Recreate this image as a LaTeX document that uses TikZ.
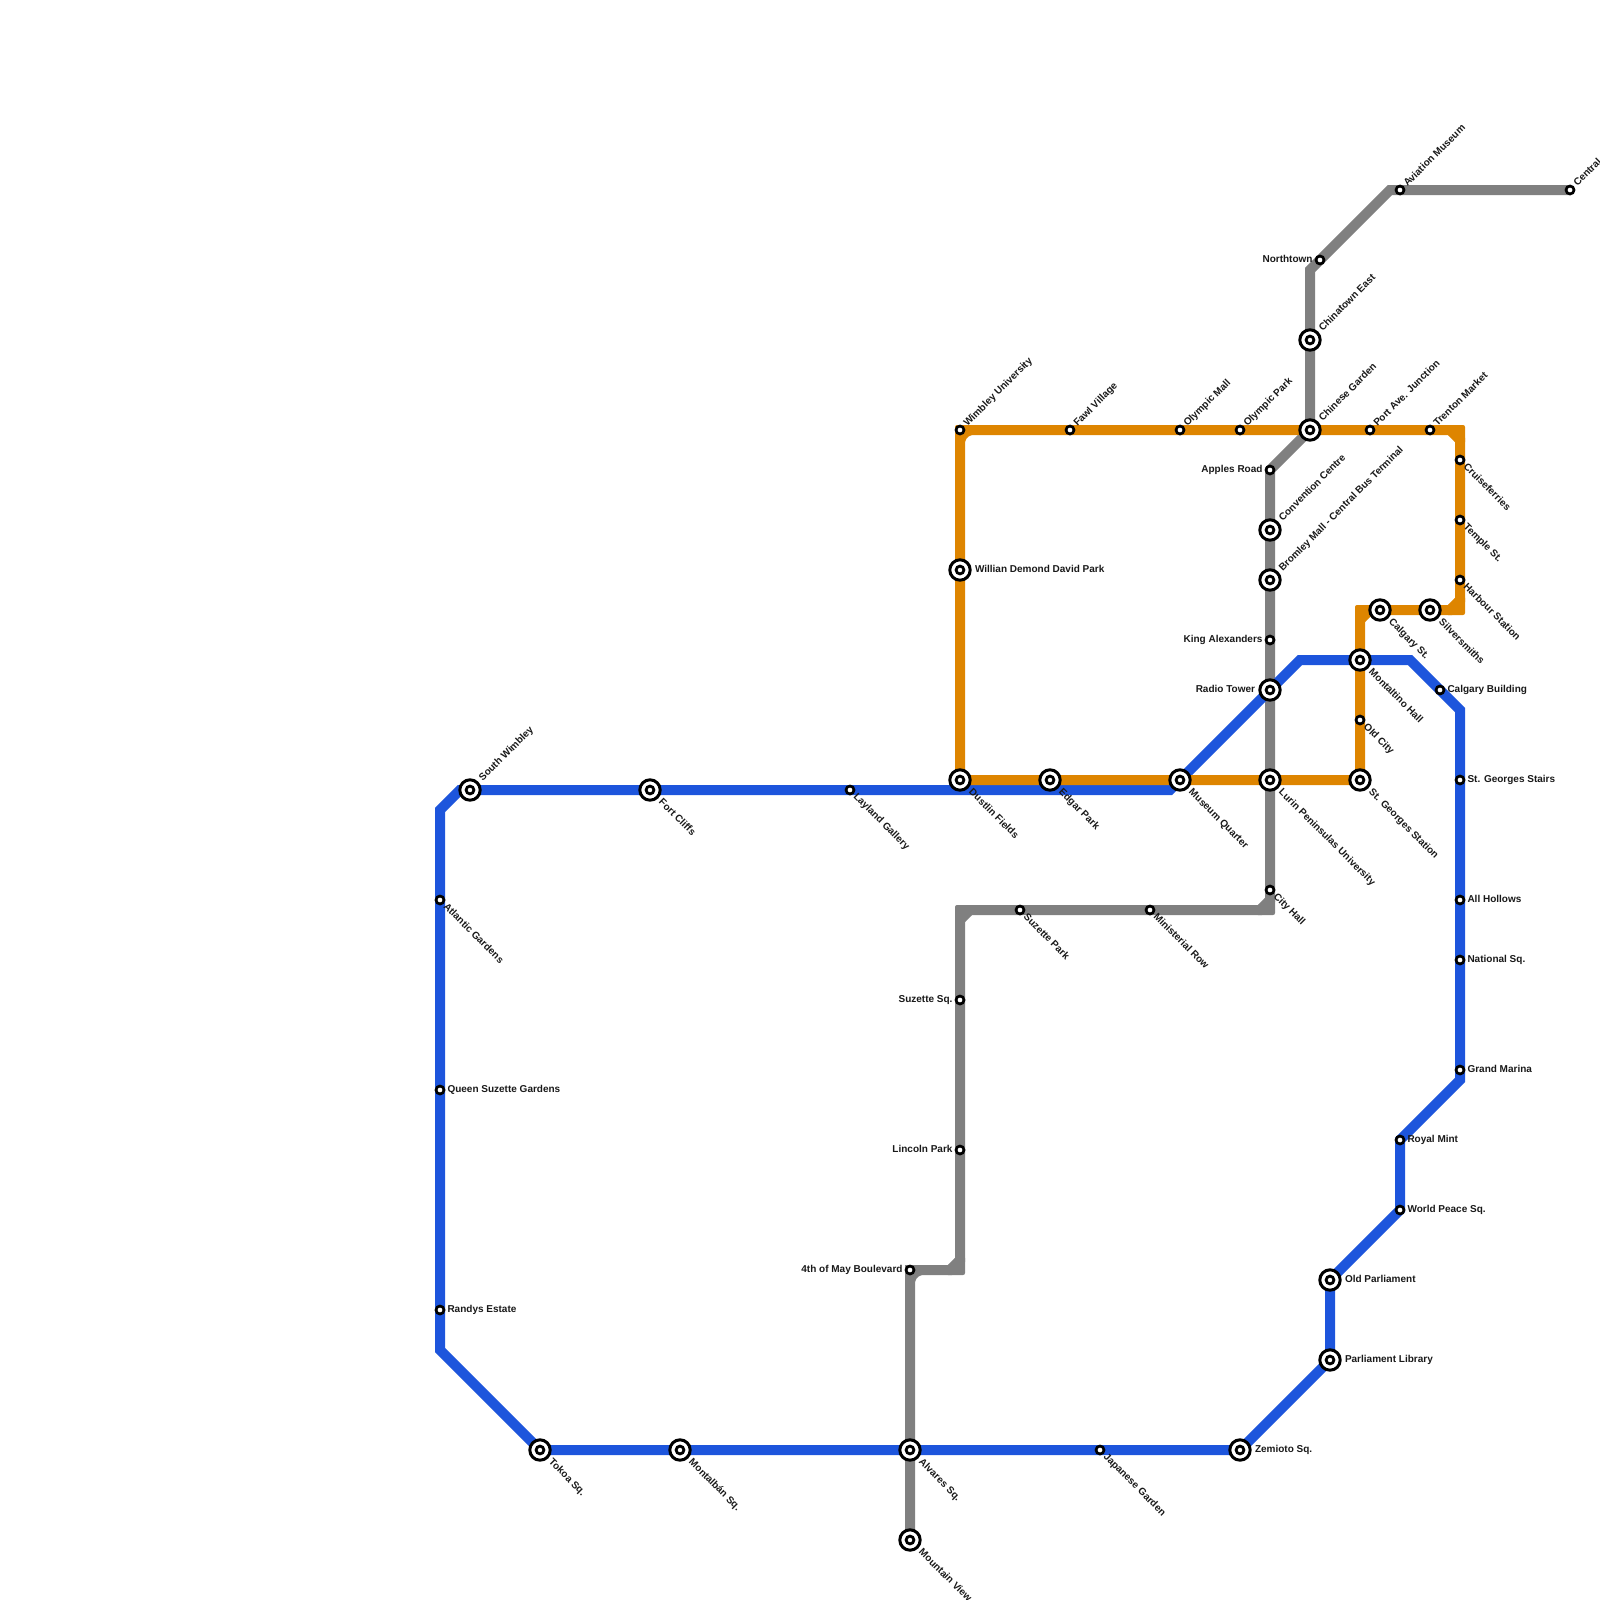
\documentclass[tikz,border=0pt]{standalone}
\usepackage{fontspec}
\setmainfont{Liberation Sans}
\usetikzlibrary{backgrounds}
\definecolor{lblue}{HTML}{1D55DC}
\definecolor{lorange}{HTML}{DE8500}
\definecolor{lgray}{HTML}{808080}
\tikzset{
  x=1pt,y=-1pt,
  line/.style={line width=10pt,line join=miter,line cap=butt},
  small/.style={circle,draw=black,fill=white,line width=2.7pt,minimum size=8pt,inner sep=0pt,outer sep=0pt},
  big/.style={circle,draw=black,fill=white,line width=3pt,minimum size=20.4pt,inner sep=0pt,outer sep=0pt},
  bigin/.style={circle,draw=black,fill=white,line width=2.8pt,minimum size=7.8pt,inner sep=0pt,outer sep=0pt},
  lab/.style={inner sep=0pt,outer sep=0pt,font=\fontsize{10}{12}\bfseries\selectfont,text=black!90},
}
\newcommand{\sm}[5]{\node[small] (#1) at (#2,#3) {};\lbl{#1}{#2}{#3}{#4}{#5}{7.5}}
\newcommand{\bg}[5]{\node[big] (#1) at (#2,#3) {};\node[bigin] (#1-i) at (#2,#3) {};\lbl{#1}{#2}{#3}{#4}{#5}{15}}
\newcommand{\lbl}[6]{%
  \ifx#4r\node[lab,anchor=base west] (#1-l) at ([shift={(#6,2.6)}]#2,#3) {#5};\fi
  \ifx#4l\node[lab,anchor=base east] (#1-l) at ([shift={(-#6,2.6)}]#2,#3) {#5};\fi
  \ifx#4u\node[lab,anchor=base west,rotate=45] (#1-l) at ([shift={(0.7071*#6+2.2,-0.7071*#6+2.2)}]#2,#3) {#5};\fi
  \ifx#4d\node[lab,anchor=base west,rotate=-45] (#1-l) at ([shift={(0.7071*#6-2.2,0.7071*#6+2.2)}]#2,#3) {#5};\fi
}
\newcommand{\crn}[5]{\fill[#1,rounded corners=2pt,shift={(#2,#3)},xscale=#4,yscale=#5]
  (-14,-5) -- (5,-5) -- (5,14) -- (-5,14) -- (-5,10) -- (-10,5) -- (-14,5) -- cycle;}
\begin{document}
\begin{tikzpicture}
\useasboundingbox (0,0) rectangle (1600,1600);
\clip (0,0) rectangle (1600,1600);
% blue
\bg{southwimbley}{470}{790}{u}{South Wimbley}
\bg{fortcliffs}{650}{790}{d}{Fort Cliffs}
\sm{layland}{850}{790}{d}{Layland Gallery}
\bg{dustlin}{960}{780}{d}{Dustlin Fields}
\bg{edgar}{1050}{780}{d}{Edgar Park}
\bg{museum}{1180}{780}{d}{Museum Quarter}
\bg{radio}{1270}{690}{l}{Radio Tower}
\bg{montaltino}{1360}{660}{d}{Montaltino Hall}
\sm{calgarybldg}{1440}{690}{r}{Calgary Building}
\sm{stairs}{1460}{780}{r}{St. Georges Stairs}
\sm{hollows}{1460}{900}{r}{All Hollows}
\sm{national}{1460}{960}{r}{National Sq.}
\sm{marina}{1460}{1070}{r}{Grand Marina}
\sm{mint}{1400}{1140}{r}{Royal Mint}
\sm{peace}{1400}{1210}{r}{World Peace Sq.}
\bg{oldparl}{1330}{1280}{r}{Old Parliament}
\bg{parllib}{1330}{1360}{r}{Parliament Library}
\bg{zemioto}{1240}{1450}{r}{Zemioto Sq.}
\sm{japanese}{1100}{1450}{d}{Japanese Garden}
\bg{alvares}{910}{1450}{d}{Alvares Sq.}
\bg{montalban}{680}{1450}{d}{Montalbán Sq.}
\bg{tokoa}{540}{1450}{d}{Tokoa Sq.}
\sm{randys}{440}{1310}{r}{Randys Estate}
\sm{queen}{440}{1090}{r}{Queen Suzette Gardens}
\sm{atlantic}{440}{900}{d}{Atlantic Gardens}
% orange
\sm{wimbleyu}{960}{430}{u}{Wimbley University}
\sm{fawl}{1070}{430}{u}{Fawl Village}
\sm{olmall}{1180}{430}{u}{Olympic Mall}
\sm{olpark}{1240}{430}{u}{Olympic Park}
\bg{chinese}{1310}{430}{u}{Chinese Garden}
\sm{portave}{1370}{430}{u}{Port Ave. Junction}
\sm{trenton}{1430}{430}{u}{Trenton Market}
\sm{cruise}{1460}{460}{d}{Cruiseferries}
\sm{temple}{1460}{520}{d}{Temple St.}
\sm{harbour}{1460}{580}{d}{Harbour Station}
\bg{silver}{1430}{610}{d}{Silversmiths}
\bg{calgaryst}{1380}{610}{d}{Calgary St.}
\sm{oldcity}{1360}{720}{d}{Old City}
\bg{stgeorges}{1360}{780}{d}{St. Georges Station}
\bg{lurin}{1270}{780}{d}{Lurin Peninsulas University}
\bg{willian}{960}{570}{r}{Willian Demond David Park}
% gray
\bg{mountain}{910}{1540}{d}{Mountain View}
\sm{fourth}{910}{1270}{l}{4th of May Boulevard}
\sm{lincoln}{960}{1150}{l}{Lincoln Park}
\sm{suzettesq}{960}{1000}{l}{Suzette Sq.}
\sm{suzettepk}{1020}{910}{d}{Suzette Park}
\sm{ministerial}{1150}{910}{d}{Ministerial Row}
\sm{cityhall}{1270}{890}{d}{City Hall}
\sm{king}{1270}{640}{l}{King Alexanders}
\bg{bromley}{1270}{580}{u}{Bromley Mall - Central Bus Terminal}
\bg{convention}{1270}{530}{u}{Convention Centre}
\sm{apples}{1270}{470}{l}{Apples Road}
\bg{chinatown}{1310}{340}{u}{Chinatown East}
\sm{northtown}{1320}{260}{l}{Northtown}
\sm{aviation}{1400}{190}{u}{Aviation Museum}
\sm{central}{1570}{190}{u}{Central}
\begin{pgfonlayer}{background}
\draw[line,lgray] (mountain.center) -- (alvares.center) -- (fourth.center) -- (950,1270) -- (960,1260) -- (lincoln.center) -- (suzettesq.center) -- (960,920) -- (970,910) -- (suzettepk.center) -- (ministerial.center) -- (1260,910) -- (1270,900) -- (cityhall.center) -- (lurin.center) -- (radio.center) -- (king.center) -- (bromley.center) -- (convention.center) -- (apples.center) -- (chinese.center) -- (chinatown.center) -- (1310,270) -- (1390,190) -- (aviation.center) -- (central.center);
\crn{lgray}{960}{1270}{1}{-1}
\crn{lgray}{910}{1270}{-1}{1}
\crn{lgray}{960}{910}{-1}{1}
\crn{lgray}{1270}{910}{1}{-1}
\draw[line,lblue] (southwimbley.center) -- (fortcliffs.center) -- (layland.center) -- (dustlin.center |- layland.center) -- (1170,790) -- (museum.center) -- (radio.center) -- (1300,660) -- (montaltino.center) -- (1410,660) -- (1460,710) -- (stairs.center) -- (hollows.center) -- (national.center) -- (marina.center) -- (1460,1080) -- (1400,1140) -- (peace.center) -- (oldparl.center) -- (parllib.center) -- (zemioto.center) -- (japanese.center) -- (alvares.center) -- (montalban.center) -- (tokoa.center) -- (440,1350) -- (randys.center) -- (queen.center) -- (atlantic.center) -- (440,810) -- (460,790) -- (southwimbley.center);
\draw[line,lorange] (wimbleyu.center) -- (fawl.center) -- (olmall.center) -- (olpark.center) -- (chinese.center) -- (portave.center) -- (trenton.center) -- (1450,430) -- (1460,440) -- (cruise.center) -- (temple.center) -- (harbour.center) -- (1460,600) -- (1450,610) -- (silver.center) -- (calgaryst.center) -- (1370,610) -- (1360,620) -- (montaltino.center) -- (oldcity.center) -- (stgeorges.center) -- (lurin.center) -- (museum.center) -- (edgar.center) -- (dustlin.center) -- (willian.center) -- (960,440) -- (wimbleyu.center);
\crn{lorange}{1460}{430}{1}{1}
\crn{lorange}{1460}{610}{1}{-1}
\crn{lorange}{1360}{610}{-1}{1}
\crn{lorange}{960}{430}{-1}{1}
\end{pgfonlayer}
\end{tikzpicture}
\end{document}
